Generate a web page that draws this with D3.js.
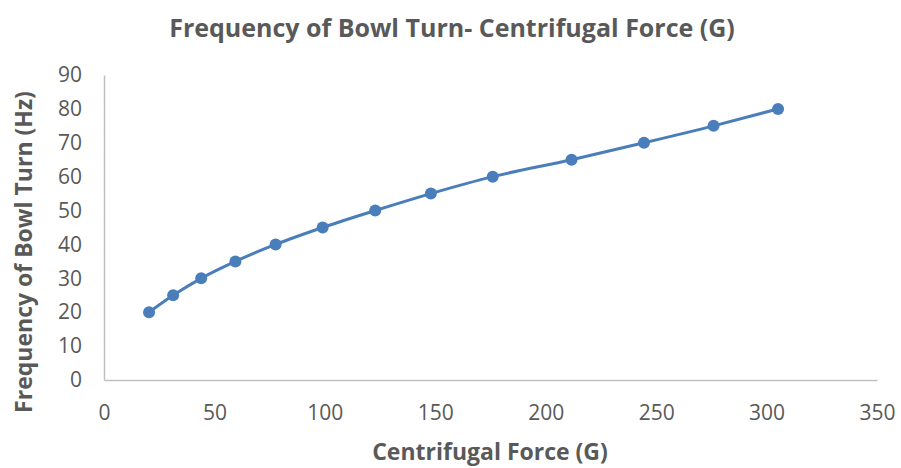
<!DOCTYPE html>
<html>
<head>
<meta charset="utf-8">
<script src="https://cdn.jsdelivr.net/npm/d3@7"></script>
<style>
  body { margin: 0; background: #fff; }
  svg { font-family: "Open Sans", "Liberation Sans", sans-serif; }
</style>
</head>
<body>
<svg width="901" height="468"></svg>
<script>
const forceG = [20.4, 31.3, 44, 59.5, 77.7, 99, 122.8, 148, 176, 211.7, 244.5, 276, 305.2];
const freqHz = [20, 25, 30, 35, 40, 45, 50, 55, 60, 65, 70, 75, 80];
const xTicks = [0, 50, 100, 150, 200, 250, 300, 350];
const yTicks = [0, 10, 20, 30, 40, 50, 60, 70, 80, 90];

const svg = d3.select("svg");
const plotL = 104, plotR = 877, plotT = 75, plotB = 380;

const x = d3.scaleLinear().domain([0, 350]).range([plotL, plotR]);
const y = d3.scaleLinear().domain([0, 90]).range([plotB, plotT]);

const points = forceG.map((g, i) => ({ g: g, hz: freqHz[i] }));

// title
svg.append("text")
    .attr("x", 452).attr("y", 37)
    .attr("text-anchor", "middle")
    .style("font-size", "25px").style("font-weight", "bold")
    .style("fill", "#595959")
    .text("Frequency of Bowl Turn- Centrifugal Force (G)");

// axes
const xAxis = svg.append("g")
    .attr("transform", "translate(0," + plotB + ")")
    .call(d3.axisBottom(x).tickValues(xTicks).tickSize(0).tickPadding(25));
const yAxis = svg.append("g")
    .attr("transform", "translate(" + plotL + ",0)")
    .call(d3.axisLeft(y).tickValues(yTicks).tickSize(0).tickPadding(22));

[xAxis, yAxis].forEach(a => {
    a.select(".domain").attr("stroke", "#c0c0c0").attr("stroke-width", 1.5);
    a.selectAll("text").style("font-size", "21px").style("fill", "#595959")
        .style("font-family", "'Open Sans', sans-serif");
});

// axis titles
svg.append("text")
    .attr("x", 490).attr("y", 460)
    .attr("text-anchor", "middle")
    .style("font-size", "23px").style("font-weight", "bold")
    .style("fill", "#595959")
    .text("Centrifugal Force (G)");

svg.append("text")
    .attr("transform", "translate(32,252) rotate(-90)")
    .attr("text-anchor", "middle")
    .style("font-size", "23px").style("font-weight", "bold")
    .style("fill", "#595959")
    .text("Frequency of Bowl Turn (Hz)");

// series
const line = d3.line()
    .x(d => x(d.g))
    .y(d => y(d.hz))
    .curve(d3.curveMonotoneX);

svg.append("path")
    .datum(points)
    .attr("fill", "none")
    .attr("stroke", "#4a7ebb")
    .attr("stroke-width", 3)
    .attr("d", line);

svg.selectAll(".dot")
    .data(points)
    .enter().append("circle")
    .attr("class", "dot")
    .attr("cx", d => x(d.g))
    .attr("cy", d => y(d.hz))
    .attr("r", 6)
    .attr("fill", "#4a7ebb");
</script>
</body>
</html>
